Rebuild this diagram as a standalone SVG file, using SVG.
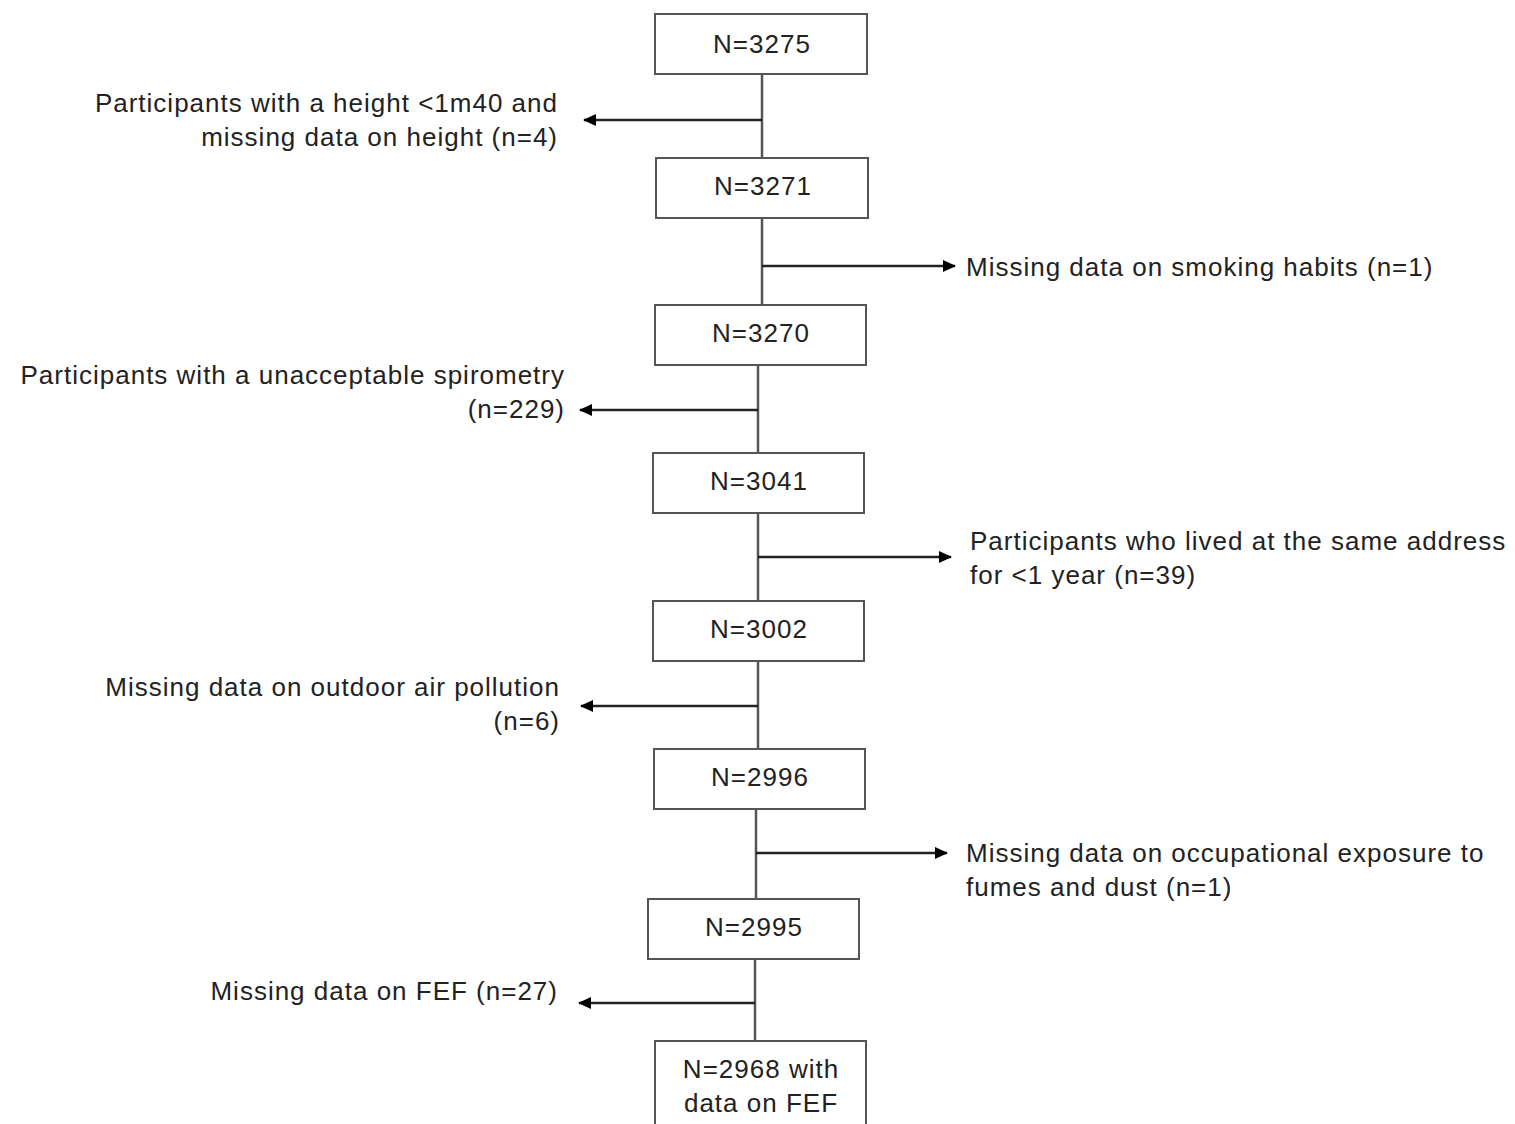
<svg xmlns="http://www.w3.org/2000/svg" width="1515" height="1124" viewBox="0 0 1515 1124">
<style>
.box{fill:#fff;stroke:#555;stroke-width:2}
.t{font-family:"Liberation Sans",Arial,sans-serif;font-size:26px;letter-spacing:1px;fill:#222}
.c{text-anchor:middle}
.r{text-anchor:end}
.ln{stroke:#555;stroke-width:2.5;fill:none}
.ar{stroke:#222;stroke-width:2.5;fill:none}
</style>
<defs>
<marker id="ah" markerWidth="14" markerHeight="12" refX="12" refY="6" orient="auto" markerUnits="userSpaceOnUse">
<path d="M0,0 L13,6 L0,12 Z" fill="#000"/>
</marker>
</defs>
<rect width="1515" height="1124" fill="#fff"/>
<g id="connectors">
<line class="ln" x1="762" y1="74" x2="762" y2="158"/>
<line class="ar" x1="762" y1="120" x2="584" y2="120" marker-end="url(#ah)"/>
<line class="ln" x1="762" y1="218" x2="762" y2="305"/>
<line class="ar" x1="762" y1="266" x2="955" y2="266" marker-end="url(#ah)"/>
<line class="ln" x1="758" y1="365" x2="758" y2="453"/>
<line class="ar" x1="758" y1="410" x2="580" y2="410" marker-end="url(#ah)"/>
<line class="ln" x1="758" y1="513" x2="758" y2="601"/>
<line class="ar" x1="758" y1="557" x2="951" y2="557" marker-end="url(#ah)"/>
<line class="ln" x1="758" y1="661" x2="758" y2="749"/>
<line class="ar" x1="758" y1="706" x2="581" y2="706" marker-end="url(#ah)"/>
<line class="ln" x1="756" y1="809" x2="756" y2="899"/>
<line class="ar" x1="756" y1="853" x2="947" y2="853" marker-end="url(#ah)"/>
<line class="ln" x1="755" y1="959" x2="755" y2="1041"/>
<line class="ar" x1="755" y1="1003" x2="579" y2="1003" marker-end="url(#ah)"/>
</g>
<g id="n1"><rect class="box" x="655" y="14" width="212" height="60"/><text class="t c" x="762" y="53">N=3275</text></g>
<g id="n2"><rect class="box" x="656" y="158" width="212" height="60"/><text class="t c" x="763" y="195">N=3271</text></g>
<g id="n3"><rect class="box" x="655" y="305" width="211" height="60"/><text class="t c" x="761" y="342">N=3270</text></g>
<g id="n4"><rect class="box" x="653" y="453" width="211" height="60"/><text class="t c" x="759" y="490">N=3041</text></g>
<g id="n5"><rect class="box" x="653" y="601" width="211" height="60"/><text class="t c" x="759" y="638">N=3002</text></g>
<g id="n6"><rect class="box" x="654" y="749" width="211" height="60"/><text class="t c" x="760" y="786">N=2996</text></g>
<g id="n7"><rect class="box" x="648" y="899" width="211" height="60"/><text class="t c" x="754" y="936">N=2995</text></g>
<g id="n8"><rect class="box" x="655" y="1041" width="211" height="100"/><text class="t c" x="761" y="1078">N=2968 with</text><text class="t c" x="761" y="1112">data on FEF</text></g>
<g id="e1"><text class="t r" x="558" y="112">Participants with a height &lt;1m40 and</text><text class="t r" x="558" y="146">missing data on height (n=4)</text></g>
<g id="e2"><text class="t" x="966" y="276">Missing data on smoking habits (n=1)</text></g>
<g id="e3"><text class="t r" x="565" y="384">Participants with a unacceptable spirometry</text><text class="t r" x="565" y="418">(n=229)</text></g>
<g id="e4"><text class="t" x="970" y="550">Participants who lived at the same address</text><text class="t" x="970" y="584">for &lt;1 year (n=39)</text></g>
<g id="e5"><text class="t r" x="560" y="696">Missing data on outdoor air pollution</text><text class="t r" x="560" y="730">(n=6)</text></g>
<g id="e6"><text class="t" x="966" y="862">Missing data on occupational exposure to</text><text class="t" x="966" y="896">fumes and dust (n=1)</text></g>
<g id="e7"><text class="t r" x="558" y="1000">Missing data on FEF (n=27)</text></g>
</svg>
